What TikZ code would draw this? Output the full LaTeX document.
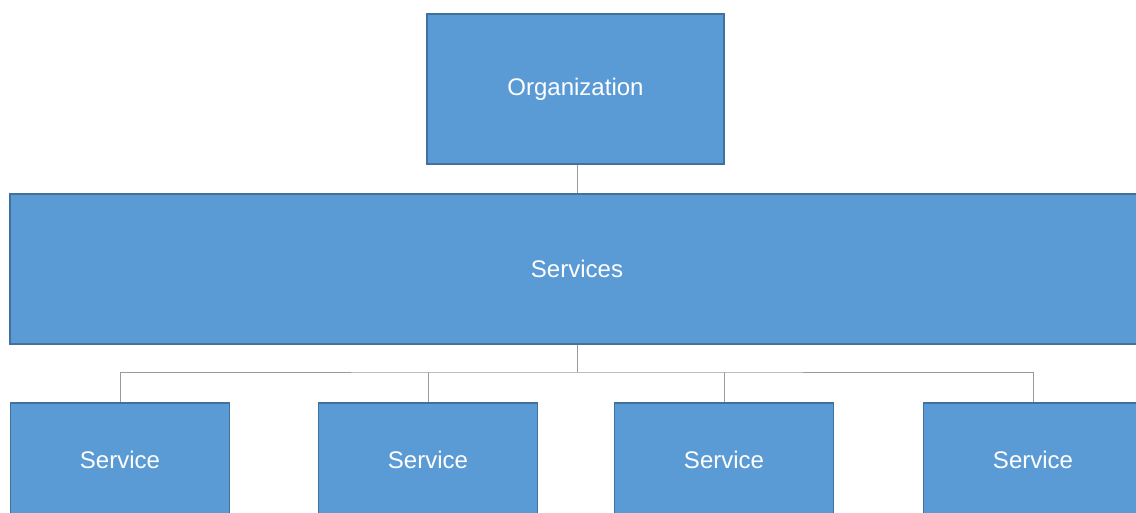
\documentclass[tikz,border=0pt]{standalone}
\usepackage{fontspec}
\setmainfont{Liberation Sans}
\usetikzlibrary{positioning}
\definecolor{boxblue}{HTML}{5B9BD5}
\definecolor{boxline}{HTML}{41719C}
\definecolor{linkgray}{HTML}{9A9A9A}
\tikzset{unit/.style={rectangle, fill=boxblue, draw=boxline, line width=1.5pt, text=white, inner sep=0pt, font=\fontsize{24}{28}\selectfont},
  link/.style={draw=linkgray, line width=1pt}}

\begin{document}
\begin{tikzpicture}[x=1pt,y=-1pt]
\useasboundingbox (0,0) rectangle (1136,512);
\clip (0,0) rectangle (1136,512);
\node[unit, minimum width=297, minimum height=150] (org) at (575.5,89) {Organization};
\node[unit, minimum width=1134, minimum height=150] (serv) at (577,269) {Services};
\node[unit, minimum width=219, minimum height=114, anchor=north] (s1) at (120,402) {Service};
\node[unit, minimum width=219, minimum height=114, anchor=north] (s2) at (428,402) {Service};
\node[unit, minimum width=219, minimum height=114, anchor=north] (s3) at (724,402) {Service};
\node[unit, minimum width=219, minimum height=114, anchor=north] (s4) at (1033,402) {Service};
\coordinate (hub) at (577,372);
\draw[link] (serv.north) -- (serv.north |- org.south);
\draw[link] (serv.south) -- (hub);
\draw[link] (s1.north) |- (hub) -| (s4.north);
\draw[link] (s2.north) -- (s2.north |- hub);
\draw[link] (s3.north) -- (s3.north |- hub);
\end{tikzpicture}
\end{document}
